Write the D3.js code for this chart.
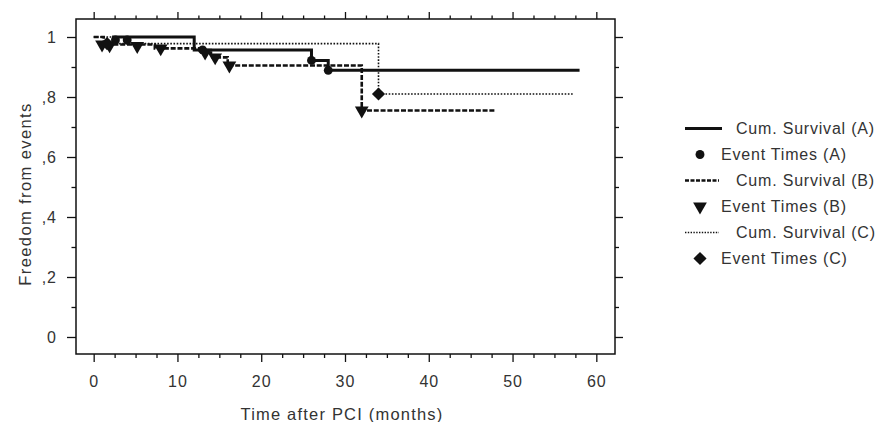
<!DOCTYPE html>
<html>
<head>
<meta charset="utf-8">
<script src="https://cdn.jsdelivr.net/npm/d3@7"></script>
<style>
  html, body { margin: 0; padding: 0; background: #fff; }
  svg { display: block; }
  text { font-family: "Liberation Sans", Arial, sans-serif; fill: #333; }
</style>
</head>
<body>
<svg id="chart" width="876" height="422"></svg>
<script>
// ---- data ----
const xTickLabels = ["0", "10", "20", "30", "40", "50", "60"];
const xTickValues = [0, 10, 20, 30, 40, 50, 60];
const yTickLabels = ["0", ",2", ",4", ",6", ",8", "1"];
const yTickValues = [0, 0.2, 0.4, 0.6, 0.8, 1.0];

// Cum. survival step curves (time in months, survival proportion)
const survA_time = [2.2, 12, 26, 28, 58];
const survA_value = [1.0, 0.957, 0.922, 0.889, 0.889];
const survB_time = [0, 1.2, 7.3, 12.7, 14.2, 16, 32, 48];
const survB_value = [1.0, 0.975, 0.962, 0.948, 0.932, 0.905, 0.755, 0.755];
const survC_time = [0, 2.5, 34, 57.2];
const survC_value = [1.0, 0.978, 0.81, 0.81];

// Event time markers
const eventA_time = [2.6, 4.0, 13.0, 26.0, 28.0];
const eventA_value = [0.99, 0.99, 0.957, 0.922, 0.889];
const eventB_time = [1.0, 1.9, 5.2, 8.0, 13.3, 14.5, 16.2, 32.0];
const eventB_value = [0.975, 0.972, 0.97, 0.962, 0.948, 0.932, 0.905, 0.755];
const eventC_time = [1.6, 34.0];
const eventC_value = [0.978, 0.81];

const legendLabels = ["Cum. Survival (A)", "Event Times (A)", "Cum. Survival (B)",
                      "Event Times (B)", "Cum. Survival (C)", "Event Times (C)"];
const xTitle = "Time after PCI (months)";
const yTitle = "Freedom from events";

// ---- layout ----
const svg = d3.select("#chart");
const L = 76, R = 615, T = 19, B = 354;
const x = d3.scaleLinear().domain([-2.11, 62.23]).range([L, R]);
const y = d3.scaleLinear().domain([-0.0567, 1.06]).range([B, T]);

const ink = "#111";

// frame
svg.append("rect").attr("x", L).attr("y", T).attr("width", R - L).attr("height", B - T)
  .attr("fill", "none").attr("stroke", ink).attr("stroke-width", 1.5);

const xMinor = d3.range(0, 60.01, 2.5).filter(v => v % 10 !== 0);
const yMinor = [0.1, 0.3, 0.5, 0.7, 0.9];

function styleAxis(g) {
  g.select(".domain").remove();
  g.selectAll("line").attr("stroke", ink).attr("stroke-width", 1.3);
  g.selectAll("text").attr("font-size", 16).attr("letter-spacing", 1).attr("fill", "#333")
    .attr("font-family", "Liberation Sans, Arial, sans-serif");
}

// bottom axis
svg.append("g").attr("transform", `translate(0,${B})`)
  .call(d3.axisBottom(x).tickValues(xTickValues).tickFormat((d, i) => xTickLabels[i]).tickSize(8).tickPadding(14))
  .call(styleAxis);
svg.append("g").attr("transform", `translate(0,${B})`)
  .call(d3.axisBottom(x).tickValues(xMinor).tickFormat("").tickSize(4)).call(styleAxis);

// top axis
svg.append("g").attr("transform", `translate(0,${T})`)
  .call(d3.axisTop(x).tickValues(xTickValues).tickFormat("").tickSize(7)).call(styleAxis);
svg.append("g").attr("transform", `translate(0,${T})`)
  .call(d3.axisTop(x).tickValues(xMinor).tickFormat("").tickSize(3.5)).call(styleAxis);

// left axis
svg.append("g").attr("transform", `translate(${L},0)`)
  .call(d3.axisLeft(y).tickValues(yTickValues).tickFormat((d, i) => yTickLabels[i]).tickSize(9).tickPadding(10))
  .call(styleAxis);
svg.append("g").attr("transform", `translate(${L},0)`)
  .call(d3.axisLeft(y).tickValues(yMinor).tickFormat("").tickSize(4.5)).call(styleAxis);

// right axis
svg.append("g").attr("transform", `translate(${R},0)`)
  .call(d3.axisRight(y).tickValues(yTickValues).tickFormat("").tickSize(8)).call(styleAxis);
svg.append("g").attr("transform", `translate(${R},0)`)
  .call(d3.axisRight(y).tickValues(yMinor).tickFormat("").tickSize(4)).call(styleAxis);

// axis titles
svg.append("text").attr("x", (x(0) + x(60)) / 2 - 3).attr("y", 420)
  .attr("text-anchor", "middle").attr("font-size", 16.5).attr("letter-spacing", 1.2).text(xTitle);
svg.append("text").attr("transform", `translate(31,${194}) rotate(-90)`)
  .attr("text-anchor", "middle").attr("font-size", 16.5).attr("letter-spacing", 1.4).text(yTitle);

// curves
const zip = (t, v) => t.map((d, i) => [d, v[i]]);
const line = d3.line().x(d => x(d[0])).y(d => y(d[1])).curve(d3.curveStepAfter);
const plot = svg.append("g");

plot.append("path").attr("d", line(zip(survC_time, survC_value)))
  .attr("fill", "none").attr("stroke", ink).attr("stroke-width", 1.6).attr("stroke-dasharray", "1.6,1.6");
plot.append("path").attr("d", line(zip(survB_time, survB_value)))
  .attr("fill", "none").attr("stroke", ink).attr("stroke-width", 2.6).attr("stroke-dasharray", "5,1.8");
plot.append("path").attr("d", line(zip(survA_time, survA_value)))
  .attr("fill", "none").attr("stroke", ink).attr("stroke-width", 3);

// markers
const symCircle = d3.symbol().type(d3.symbolCircle).size(62);
const symDiamond = d3.symbol().type(d3.symbolDiamond2).size(110);
const triDown = d3.symbol().type(d3.symbolTriangle).size(82);

function markers(t, v, gen, rot) {
  plot.append("g").selectAll("path").data(zip(t, v)).join("path")
    .attr("d", gen())
    .attr("transform", d => `translate(${x(d[0])},${y(d[1])}) rotate(${rot})`)
    .attr("fill", ink);
}
markers(eventA_time, eventA_value, symCircle, 0);
markers(eventB_time, eventB_value, triDown, 180);
markers(eventC_time, eventC_value, symDiamond, 0);

// legend
const lg = svg.append("g");
const rowY = [128.5, 154.5, 180.5, 206.5, 232.5, 258.5];
const styles = [
  {type: "line", w: 3, dash: null},
  {type: "sym", gen: symCircle, rot: 0},
  {type: "line", w: 2.4, dash: "4,1.5"},
  {type: "sym", gen: triDown, rot: 180},
  {type: "line", w: 1.4, dash: "1.4,1.4"},
  {type: "sym", gen: symDiamond, rot: 0}
];
styles.forEach((s, i) => {
  if (s.type === "line") {
    lg.append("line").attr("x1", 685).attr("x2", i === 0 ? 722 : 719)
      .attr("y1", rowY[i]).attr("y2", rowY[i])
      .attr("stroke", ink).attr("stroke-width", s.w).attr("stroke-dasharray", s.dash);
    lg.append("text").attr("x", 736).attr("y", rowY[i] + 5.8).attr("font-size", 16)
      .attr("letter-spacing", 0.8).text(legendLabels[i]);
  } else {
    lg.append("path").attr("d", s.gen()).attr("fill", ink)
      .attr("transform", `translate(700,${rowY[i]}) rotate(${s.rot})`);
    lg.append("text").attr("x", 721).attr("y", rowY[i] + 5.8).attr("font-size", 16)
      .attr("letter-spacing", 0.8).text(legendLabels[i]);
  }
});
</script>
</body>
</html>
